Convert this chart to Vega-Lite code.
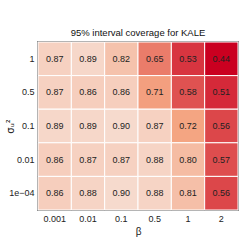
{
  "$schema": "https://vega.github.io/schema/vega-lite/v6.json",
  "width": 200,
  "height": 168,
  "autosize": "none",
  "padding": {"left": 38, "top": 42, "right": 5, "bottom": 32},
  "background": "white",
  "title": {"text": "95% interval coverage for KALE", "fontSize": 9.5, "fontWeight": "normal", "font": "Liberation Sans", "color": "#111", "offset": 4, "anchor": "middle"},
  "config": {"view": {"stroke": "#3a3a3a", "strokeWidth": 1.5}},
  "data": {"values": [
    {"s": "1", "b": "0.001", "v": 0.87}, {"s": "1", "b": "0.01", "v": 0.89}, {"s": "1", "b": "0.1", "v": 0.82}, {"s": "1", "b": "0.5", "v": 0.65}, {"s": "1", "b": "1", "v": 0.53}, {"s": "1", "b": "2", "v": 0.44},
    {"s": "0.5", "b": "0.001", "v": 0.87}, {"s": "0.5", "b": "0.01", "v": 0.86}, {"s": "0.5", "b": "0.1", "v": 0.86}, {"s": "0.5", "b": "0.5", "v": 0.71}, {"s": "0.5", "b": "1", "v": 0.58}, {"s": "0.5", "b": "2", "v": 0.51},
    {"s": "0.1", "b": "0.001", "v": 0.89}, {"s": "0.1", "b": "0.01", "v": 0.89}, {"s": "0.1", "b": "0.1", "v": 0.90}, {"s": "0.1", "b": "0.5", "v": 0.87}, {"s": "0.1", "b": "1", "v": 0.72}, {"s": "0.1", "b": "2", "v": 0.56},
    {"s": "0.01", "b": "0.001", "v": 0.86}, {"s": "0.01", "b": "0.01", "v": 0.87}, {"s": "0.01", "b": "0.1", "v": 0.87}, {"s": "0.01", "b": "0.5", "v": 0.88}, {"s": "0.01", "b": "1", "v": 0.80}, {"s": "0.01", "b": "2", "v": 0.57},
    {"s": "1e\u221204", "b": "0.001", "v": 0.86}, {"s": "1e\u221204", "b": "0.01", "v": 0.88}, {"s": "1e\u221204", "b": "0.1", "v": 0.90}, {"s": "1e\u221204", "b": "0.5", "v": 0.88}, {"s": "1e\u221204", "b": "1", "v": 0.81}, {"s": "1e\u221204", "b": "2", "v": 0.56}
  ]},
  "encoding": {
    "x": {"field": "b", "type": "ordinal", "sort": ["0.001", "0.01", "0.1", "0.5", "1", "2"],
      "scale": {"paddingInner": 0, "paddingOuter": 0},
      "axis": {"title": "\u03b2", "titleFont": "Liberation Sans", "titleFontSize": 10, "titleFontWeight": "normal", "titleColor": "#222", "titlePadding": 3,
        "labelAngle": 0, "labelFont": "Liberation Sans", "labelFontSize": 9, "labelColor": "#222", "labelPadding": 4, "ticks": false, "domain": false}},
    "y": {"field": "s", "type": "ordinal", "sort": ["1", "0.5", "0.1", "0.01", "1e\u221204"],
      "scale": {"paddingInner": 0, "paddingOuter": 0},
      "axis": {"title": "\u03c3\u1d64\u00b2", "titleFont": "DejaVu Sans", "titleFontSize": 10, "titleFontWeight": "normal", "titleColor": "#222",
        "titleX": -28, "titleY": 84, "titleAngle": -90, "titleAlign": "center", "titleBaseline": "middle",
        "labelFont": "Liberation Sans", "labelFontSize": 9, "labelColor": "#222", "labelPadding": 4, "ticks": false, "domain": false}}
  },
  "layer": [
    {"mark": {"type": "rect", "stroke": "white", "strokeWidth": 1},
     "encoding": {"color": {"field": "v", "type": "quantitative", "legend": null,
       "scale": {"domain": [0.44, 0.72, 1.0], "range": ["#CA0020", "#F4A582", "#F7F7F7"], "interpolate": "rgb"}}}},
    {"mark": {"type": "text", "font": "Liberation Sans", "fontSize": 9, "color": "#222"},
     "encoding": {"text": {"field": "v", "type": "quantitative", "format": ".2f"}}}
  ]
}
